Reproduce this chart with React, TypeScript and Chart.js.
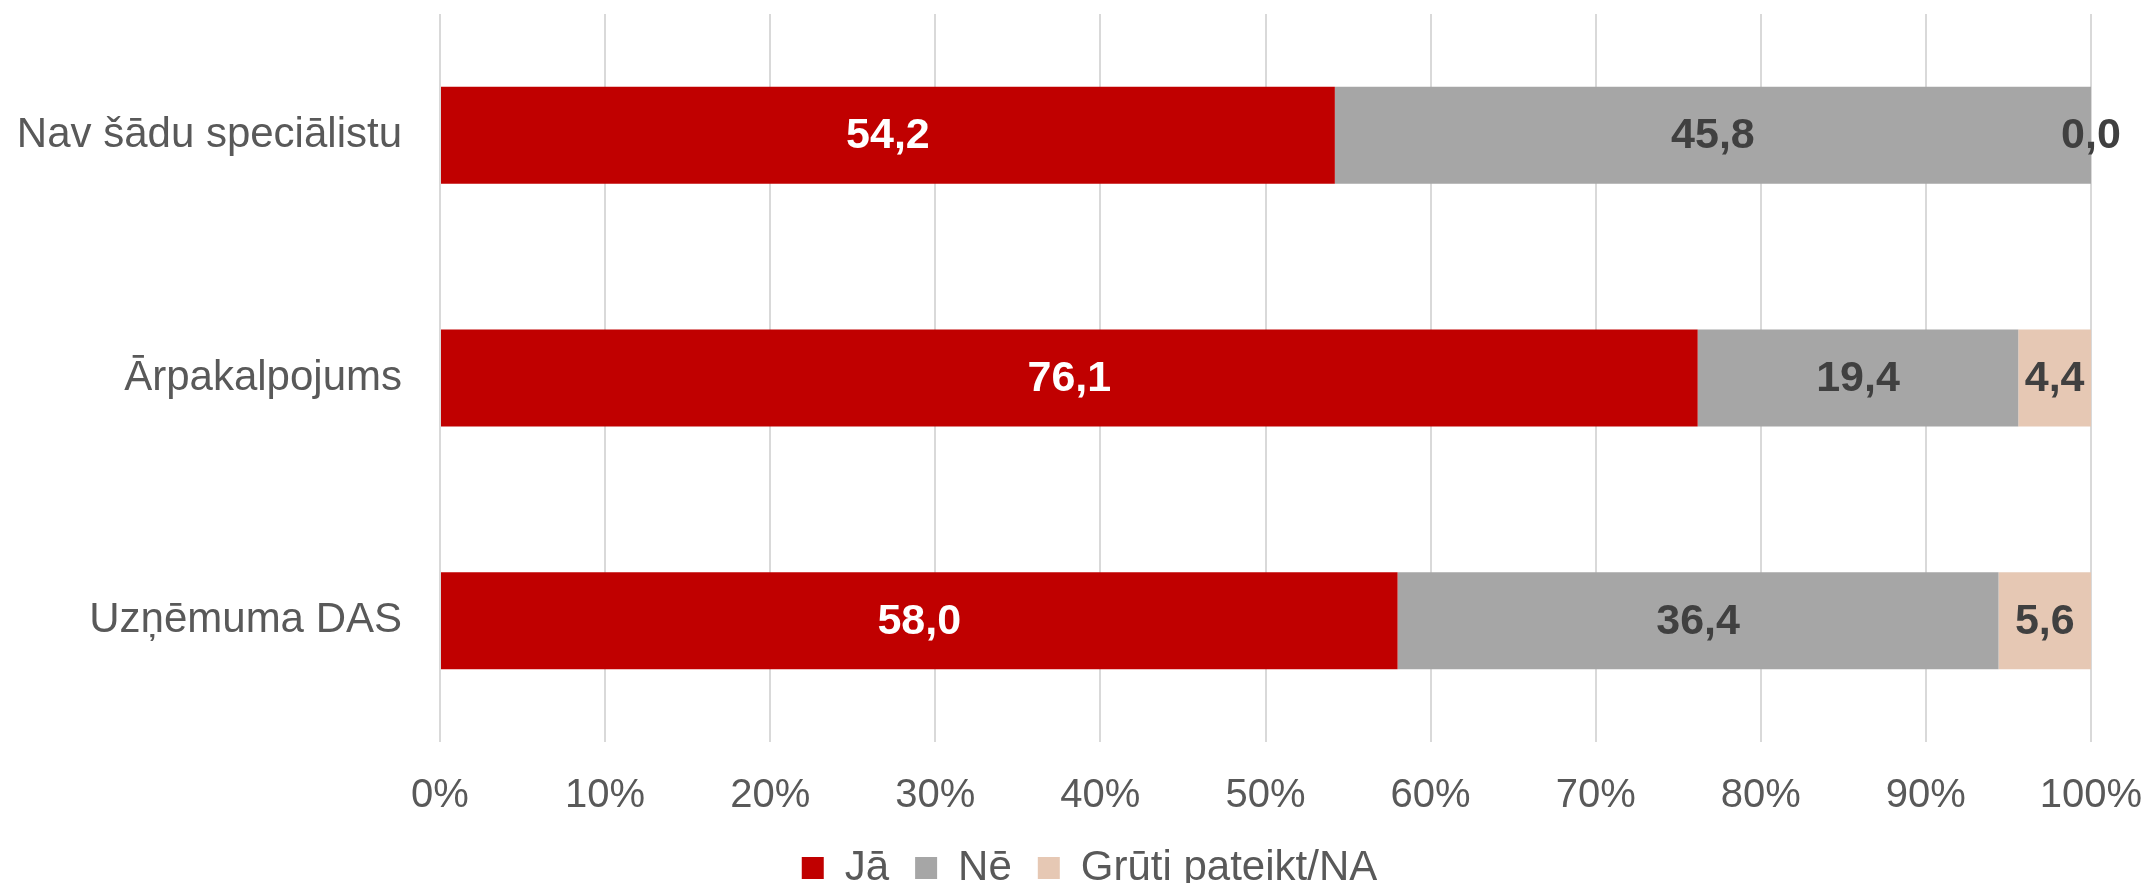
import React, { useEffect, useRef } from "react";
import { Chart, registerables } from "chart.js";

Chart.register(...registerables);

const categories = ["Nav šādu speciālistu", "Ārpakalpojums", "Uzņēmuma DAS"];
const seriesNames = ["Jā", "Nē", "Grūti pateikt/NA"];
const jaValues = [54.2, 76.1, 58.0];
const neValues = [45.8, 19.4, 36.4];
const grutiValues = [0.0, 4.4, 5.6];
const xTicks = [0, 10, 20, 30, 40, 50, 60, 70, 80, 90, 100];

const colors = ["#C00000", "#A6A6A6", "#E6C8B4"];
const labelColors = ["#FFFFFF", "#404040", "#404040"];

const FONT = "'Liberation Sans', Arial, sans-serif";

const rawSeries = [jaValues, neValues, grutiValues];
const totals = categories.map((_, i) => rawSeries.reduce((s, arr) => s + arr[i], 0));

const valueLabelPlugin = {
  id: "valueLabels",
  afterDatasetsDraw(chart: any) {
    const ctx = chart.ctx;
    ctx.save();
    ctx.font = `bold 43px ${FONT}`;
    ctx.textAlign = "center";
    ctx.textBaseline = "middle";
    chart.data.datasets.forEach((ds: any, di: number) => {
      const meta = chart.getDatasetMeta(di);
      meta.data.forEach((el: any, i: number) => {
        const raw = ds.rawValues[i];
        const p = el.getProps(["x", "y", "base"], true);
        const cx = (p.x + p.base) / 2;
        ctx.fillStyle = ds.labelColor;
        ctx.fillText(raw.toFixed(1).replace(".", ","), cx, p.y + 1);
      });
    });
    ctx.restore();
  },
};

const legendShiftPlugin = {
  id: "legendShift",
  afterLayout(chart: any) {
    const lg = chart.legend;
    if (lg) {
      lg.left += 14;
      lg.right += 14;
      if (lg.adjustHitBoxes) lg.adjustHitBoxes();
    }
  },
};

export default function App() {
  const ref = useRef<HTMLCanvasElement>(null);
  useEffect(() => {
    document.body.style.margin = "0";
    const canvas = ref.current!;
    const chart = new Chart(canvas, {
      type: "bar",
      data: {
        labels: categories,
        datasets: rawSeries.map((arr, k) => ({
          label: seriesNames[k],
          data: arr.map((v, i) => (v / totals[i]) * 100),
          rawValues: arr,
          labelColor: labelColors[k],
          backgroundColor: colors[k],
          borderWidth: 0,
          categoryPercentage: 1,
          barPercentage: 0.4,
        })) as any,
      },
      options: {
        indexAxis: "y",
        responsive: false,
        maintainAspectRatio: false,
        animation: false,
        devicePixelRatio: 1,
        layout: { padding: { top: 14, right: 0, left: 0, bottom: -16 } },
        plugins: {
          legend: {
            position: "bottom",
            labels: {
              boxWidth: 22,
              boxHeight: 22,
              padding: 26,
              color: "#595959",
              font: { family: FONT, size: 42 },
            },
          },
          tooltip: { enabled: false },
        },
        scales: {
          x: {
            stacked: true,
            min: 0,
            max: 100,
            afterBuildTicks: (axis: any) => {
              axis.ticks = xTicks.map((v) => ({ value: v }));
            },
            afterFit: (axis: any) => {
              axis.paddingLeft = 0;
              axis.paddingRight = 60;
              axis.height = axis.height - 29;
            },
            ticks: {
              callback: (v: any) => `${v}%`,
              color: "#595959",
              font: { family: FONT, size: 40 },
              padding: 30,
              maxRotation: 0,
            },
            grid: { color: "#D9D9D9", lineWidth: 2, drawTicks: false },
            border: { display: false },
          },
          y: {
            stacked: true,
            afterFit: (axis: any) => {
              axis.width = 440;
              axis.paddingTop = 0;
              axis.paddingBottom = 0;
            },
            ticks: {
              color: "#595959",
              font: { family: FONT, size: 42 },
              padding: 38,
            },
            grid: { display: false, drawTicks: false },
            border: { display: false },
          },
        },
      },
      plugins: [valueLabelPlugin, legendShiftPlugin],
    });
    return () => chart.destroy();
  }, []);
  return <canvas ref={ref} width={2151} height={883} style={{ display: "block" }} />;
}
